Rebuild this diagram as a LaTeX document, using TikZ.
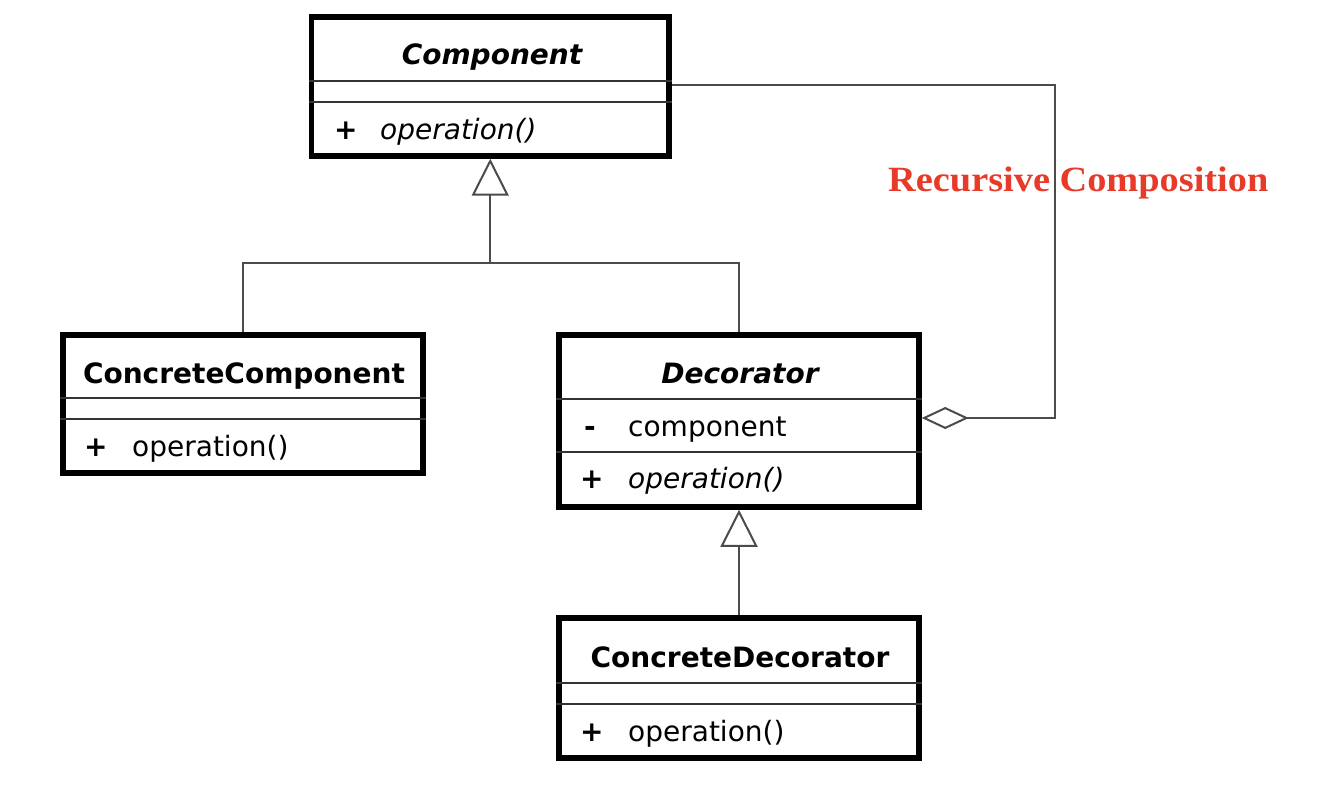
\documentclass[tikz,border=0pt]{standalone}
\usepackage{fontspec}
\setmainfont{DejaVu Sans}
\newfontfamily\capfont{Liberation Serif}[FakeStretch=1.08]
\usetikzlibrary{arrows.meta}
\definecolor{rc}{RGB}{232,58,40}
\definecolor{ln}{RGB}{75,75,75}
\begin{document}
\begin{tikzpicture}[x=1pt,y=-1pt,
  umlbox/.style={draw=black, line width=5.5pt, rectangle, inner sep=0pt},
  divider/.style={draw=black!80, line width=1.8pt},
  umltitle/.style={font=\fontsize{28}{32}\selectfont\bfseries, inner sep=0pt, anchor=base},
  member/.style={font=\fontsize{28}{32}\selectfont, inner sep=0pt, anchor=base west},
  vis/.style={font=\fontsize{28}{32}\selectfont\bfseries, inner sep=0pt, anchor=base west},
  conn/.style={draw=ln, line width=2pt},
  inherit/.style={conn, -{Triangle[open, length=37pt, width=37pt]}},
  agg/.style={conn, {Diamond[open, length=47pt, width=22pt]}-},
  captext/.style={font=\capfont\bfseries\fontsize{35.5}{40}\selectfont, text=rc, inner sep=0pt, anchor=base west}
]
\useasboundingbox (0,0) rectangle (1338,794);

% boxes
\node[umlbox, minimum width=357.5pt, minimum height=139pt] (comp) at (490.25,86.5) {};
\node[umlbox, minimum width=360pt, minimum height=138pt] (cc) at (243,404) {};
\node[umlbox, minimum width=360pt, minimum height=172pt] (dec) at (739,421) {};
\node[umlbox, minimum width=360pt, minimum height=140pt] (cd) at (739,688) {};

% dividers
\draw[divider] (comp.west |- 0,81) -- (comp.east |- 0,81);
\draw[divider] (comp.west |- 0,102) -- (comp.east |- 0,102);
\draw[divider] (cc.west |- 0,398) -- (cc.east |- 0,398);
\draw[divider] (cc.west |- 0,419) -- (cc.east |- 0,419);
\draw[divider] (dec.west |- 0,399) -- (dec.east |- 0,399);
\draw[divider] (dec.west |- 0,452) -- (dec.east |- 0,452);
\draw[divider] (cd.west |- 0,683) -- (cd.east |- 0,683);
\draw[divider] (cd.west |- 0,704) -- (cd.east |- 0,704);

% titles
\node[umltitle, font=\fontsize{28}{32}\selectfont\bfseries\itshape] (compT) at (492,65) {Component};
\node[umltitle] (ccT) at (244,383) {ConcreteComponent};
\node[umltitle, font=\fontsize{28}{32}\selectfont\bfseries\itshape] (decT) at (740,383) {Decorator};
\node[umltitle] (cdT) at (740,667) {ConcreteDecorator};

% members
\node[vis] (compV) at (334,139.5) {+};
\node[member, font=\fontsize{28}{32}\selectfont\itshape] (compM) at (380,139.5) {operation()};
\node[vis] (ccV) at (84,456) {+};
\node[member] (ccM) at (132,456) {operation()};
\node[vis] (decV1) at (584,436) {-};
\node[member] (decM1) at (628,436) {component};
\node[vis] (decV2) at (580,488) {+};
\node[member, font=\fontsize{28}{32}\selectfont\itshape] (decM2) at (628,488) {operation()};
\node[vis] (cdV) at (580,741) {+};
\node[member] (cdM) at (628,741) {operation()};

% connectors
\coordinate (j) at (490.25,263);
\draw[conn] (cc.north) |- (j);
\draw[conn] (dec.north) |- (j);
\draw[inherit] (j) -- (comp.south);
\draw[inherit] (cd.north) -- (dec.south);
\draw[agg] (dec.east |- 0,418) -| (1055,85) -- (comp.east |- 0,85);

% label
\node[captext] (cap) at (888,192) {Recursive Composition};
\end{tikzpicture}
\end{document}
